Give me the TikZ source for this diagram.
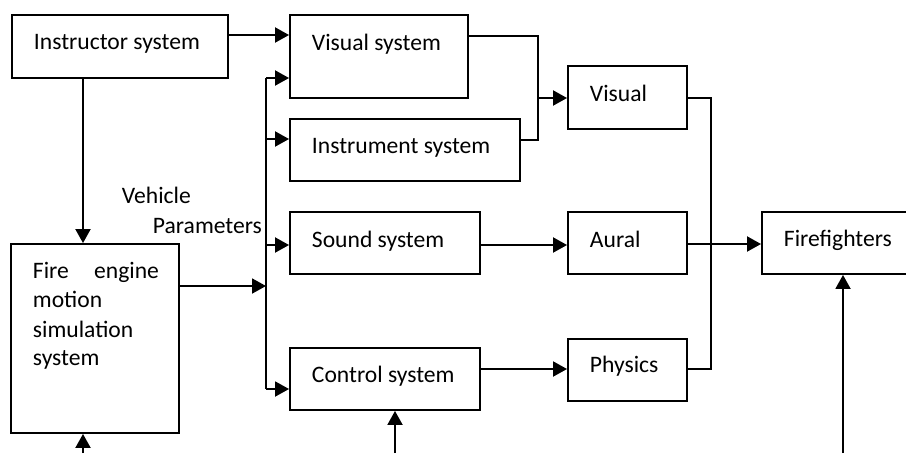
\documentclass[tikz,border=0pt]{standalone}
\usepackage{fontspec}
\setmainfont{Carlito}
\usetikzlibrary{arrows.meta}
\begin{document}
\begin{tikzpicture}[x=1pt,y=-1pt,
  line width=1.9pt,
  box/.style={draw, line width=1.9pt, inner sep=0pt, rectangle},
  txt/.style={anchor=base west, inner sep=0pt, font=\fontsize{23.6}{29}\selectfont},
  arr/.style={-{Triangle[length=14pt,width=15pt]}},
  wire/.style={line width=1.9pt}]
\useasboundingbox (0,0) rectangle (906,453);
\clip (0,0) rectangle (906,453);

% boxes (centre, width, height)
\node[box, minimum width=216pt, minimum height=63pt] (instr)   at (120,46.5)  {};
\node[box, minimum width=178pt, minimum height=83pt] (vissys)  at (379,56.5)  {};
\node[box, minimum width=230pt, minimum height=62pt] (inssys)  at (405,150)   {};
\node[box, minimum width=190pt, minimum height=62pt] (sndsys)  at (385,243)   {};
\node[box, minimum width=190pt, minimum height=62pt] (ctlsys)  at (385,379)   {};
\node[box, minimum width=119pt, minimum height=63pt] (visual)  at (627.5,97.5){};
\node[box, minimum width=119pt, minimum height=62pt] (aural)   at (627.5,243) {};
\node[box, minimum width=119pt, minimum height=62pt] (physics) at (627.5,370) {};
\node[box, minimum width=160pt, minimum height=62pt] (fire)    at (842,243)   {};
\node[box, minimum width=168pt, minimum height=189pt] (fireng) at (95,338.5)  {};

% box texts
\node[txt] (tinstr)   at (33,49)   {Instructor system};
\node[txt] (tvissys)  at (311,50)  {Visual system};
\node[txt] (tinssys)  at (311,153) {Instrument system};
\node[txt] (tsndsys)  at (311,247) {Sound system};
\node[txt] (tctlsys)  at (311,382) {Control system};
\node[txt] (tvisual)  at (589,101) {Visual};
\node[txt] (taural)   at (589,247) {Aural};
\node[txt] (tphysics) at (589,372) {Physics};
\node[txt] (tfire)    at (783,246) {Firefighters};
\node[txt] (tfe1) at (32,278) {\makebox[126pt][s]{Fire\hfill engine}};
\node[txt] (tfe2) at (32,307) {motion};
\node[txt] (tfe3) at (32,337) {simulation};
\node[txt] (tfe4) at (32,365) {system};
\node[txt] (tveh1) at (121,203) {Vehicle};
\node[txt] (tveh2) at (152,233) {Parameters};

% bus and junction points
\coordinate (bustop) at (266,78);
\coordinate (busins) at (266,139);
\coordinate (bussnd) at (266,245);
\coordinate (busin)  at (266,286);
\coordinate (busbot) at (266,389);
\coordinate (jvis)   at (538,98);
\coordinate (jout)   at (711,98);
\coordinate (srcfe)  at (83,453);
\coordinate (srcctl) at (395,453);
\coordinate (srcff)  at (843,453);

% instructor connections
\draw[arr] (instr.east |- 0,35) -- (vissys.west |- 0,35);
\draw[arr] (instr.south -| srcfe) -- (fireng.north -| srcfe);

% vehicle parameters bus
\draw[arr] (fireng.east |- busin) -- (busin);
\draw[wire] (bustop) -- (busbot);
\draw[arr] (bustop) -- (vissys.west |- bustop);
\draw[arr] (busins) -- (inssys.west |- busins);
\draw[arr] (bussnd) -- (sndsys.west |- bussnd);
\draw[arr] (busbot) -- (ctlsys.west |- busbot);

% visual channel
\draw[wire] (vissys.east |- 0,36) -| (jvis);
\draw[wire] (inssys.east |- 0,140) -| (jvis);
\draw[arr] (jvis) -- (visual.west |- jvis);

% aural and physics channels
\draw[arr] (sndsys.east |- 0,245) -- (aural.west |- 0,245);
\draw[arr] (ctlsys.east |- 0,369) -- (physics.west |- 0,369);

% senses to firefighters
\draw[wire] (visual.east |- jout) -- (jout) |- (physics.east |- 0,369);
\draw[arr] (aural.east |- 0,244) -- (fire.west |- 0,244);

% inputs from below
\draw[arr] (srcfe) -- (fireng.south -| srcfe);
\draw[arr] (srcctl) -- (ctlsys.south -| srcctl);
\draw[arr] (srcff) -- (fire.south -| srcff);
\end{tikzpicture}
\end{document}
